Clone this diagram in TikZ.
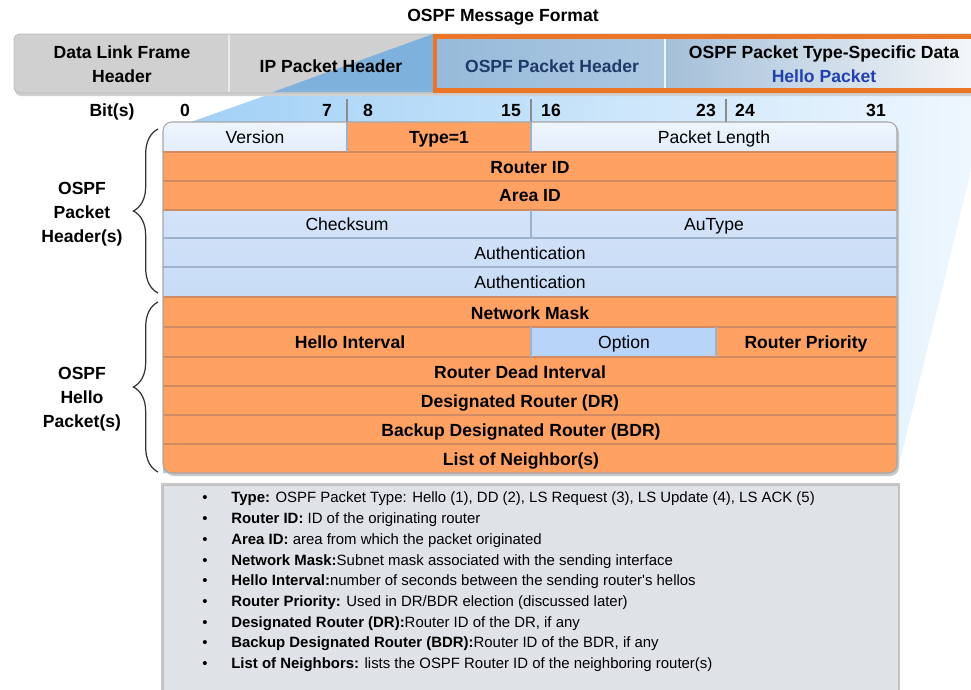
\documentclass[tikz,border=0pt]{standalone}
\usepackage{fontspec}
\setmainfont{Liberation Sans}
\usepackage{tikz}
\usetikzlibrary{calc}
\usetikzlibrary{decorations.pathreplacing}

\definecolor{ospforange}{HTML}{FFA163}
\definecolor{orangeline}{HTML}{D08B62}
\definecolor{cellblue}{HTML}{C8DCF7}
\definecolor{celllight}{HTML}{E3EEFB}
\definecolor{optionblue}{HTML}{B9D4F9}
\definecolor{blueline}{HTML}{9EB2CB}
\definecolor{bargray}{HTML}{D0D0D0}
\definecolor{frameorange}{HTML}{EA7527}
\definecolor{hdrblue}{HTML}{97BADA}
\definecolor{hdrgray}{HTML}{C9CED3}
\definecolor{wedgedark}{HTML}{7EB1DB}
\definecolor{wedgeleft}{HTML}{9FCFF6}
\definecolor{wedgeright}{HTML}{F0F8FE}
\definecolor{navytext}{HTML}{1E3A66}
\definecolor{hellotext}{HTML}{2241B0}
\definecolor{notegray}{HTML}{DFE3E8}

\tikzset{
  lbl/.style={font=\fontsize{10}{13.7}\selectfont\bfseries, inner sep=0pt, align=center},
  fld/.style={font=\fontsize{10}{12}\selectfont, inner sep=0pt, text height=7.2pt, text depth=0pt},
  fldb/.style={fld, font=\fontsize{10}{12}\selectfont\bfseries},
  noteline/.style={font=\fontsize{8.5}{10}\selectfont, inner sep=0pt, anchor=base west},
  rowsep/.style={orangeline, line width=0.6pt},
  bluesep/.style={blueline, line width=0.6pt},
}

\begin{document}
\begin{tikzpicture}[x=0.02cm, y=-0.02cm]
    \useasboundingbox (0,0) rectangle (971,690);
    \clip (0,0) rectangle (971,690);

    \coordinate (HL) at (433,34);
    \coordinate (TL) at (163,122);
    \coordinate (TR) at (897,122);
    \coordinate (BL) at (163,473);
    \coordinate (BR) at (897,473);

    % Blue projection behind the table
    \shade[left color=wedgeleft, right color=wedgeright]
        (273,93) -- (990,93) -- (BR) -- (BL) -- (163,131.8) -- cycle;

    % Title
    \node[lbl] (title) at (503,17) {OSPF Message Format};

    % Header Bar
    \fill[black!18, rounded corners=3pt] (15,36) rectangle (1000,96);
    \draw[fill=bargray, draw=black!28, rounded corners=3pt] (14,34) rectangle (1000,93);
    \fill[wedgedark] (HL) -- (433,92) -- (273,92) -- cycle;
    \draw[white!92!black, line width=1pt] (229,35) -- (229,92);
    \shade[left color=hdrblue, right color=hdrblue!80!white] (435,37) rectangle (665,90);
    \shade[left color=hdrblue!75!hdrgray, right color=hdrgray!85!black!5] (665,37) rectangle (1000,90);
    \draw[white!85!hdrblue, line width=0.8pt] (665,38) -- (665,89);
    \draw[frameorange, line width=2.3pt] (435,36.5) rectangle (1000,90.5);

    \node[lbl] (dlink) at (122,64) {Data Link Frame\\Header};
    \node[lbl] (iphdr) at (331,66) {IP Packet Header};
    \node[lbl, text=navytext] (ospfhdr) at (552,66) {OSPF Packet Header};
    \node[lbl] (typedata) at (824,64) {OSPF Packet Type-Specific Data\\\textcolor{hellotext}{Hello Packet}};

    % Bit numbers
    \node[fldb] (bits) at (112,110) {Bit(s)};
    \node[fldb] (b0) at (185,110) {0};
    \node[fldb] (b7) at (327,110) {7};
    \node[fldb] (b8) at (368,110) {8};
    \node[fldb] (b15) at (511,110) {15};
    \node[fldb] (b16) at (551,110) {16};
    \node[fldb] (b23) at (706,110) {23};
    \node[fldb] (b24) at (745,110) {24};
    \node[fldb] (b31) at (876,110) {31};
    \draw[black!45, line width=0.8pt] (347,99) -- (347,122);
    \draw[black!45, line width=0.8pt] (531,99) -- (531,122);
    \draw[black!45, line width=0.8pt] (726,99) -- (726,122);

    % Table shadow
    \fill[black!22, rounded corners=5pt] (165,124) -- (899,124) -- (899,476) -- (165,476) -- cycle;

    % Table cells
    \begin{scope}
        \clip[rounded corners=5pt] (BL) -- (TL) -- (TR) -- (BR) -- cycle;
        \shade[top color=celllight!60!white, bottom color=celllight] (163,122) rectangle (347,152);
        \fill[ospforange] (347,122) rectangle (531,152);
        \shade[top color=celllight!60!white, bottom color=celllight] (531,122) rectangle (897,152);
        \fill[ospforange] (163,152) rectangle (897,210);
        \shade[top color=cellblue!80!white, bottom color=cellblue] (163,210) rectangle (897,297);
        \fill[ospforange] (163,297) rectangle (897,473);
        \fill[optionblue] (531,327) rectangle (716,357);

        \draw[rowsep] (163,152) -- (897,152);
        \draw[rowsep] (163,181) -- (897,181);
        \draw[rowsep] (163,210) -- (897,210);
        \draw[bluesep] (163,238) -- (897,238);
        \draw[bluesep] (163,267) -- (897,267);
        \draw[rowsep] (163,297) -- (897,297);
        \draw[rowsep] (163,327) -- (897,327);
        \draw[rowsep] (163,357) -- (897,357);
        \draw[rowsep] (163,386) -- (897,386);
        \draw[rowsep] (163,415) -- (897,415);
        \draw[rowsep] (163,444) -- (897,444);

        \draw[bluesep] (347,122) -- (347,152);
        \draw[bluesep] (531,122) -- (531,152);
        \draw[bluesep] (531,210) -- (531,238);
        \draw[bluesep] (531,327) -- (531,357);
        \draw[bluesep] (716,327) -- (716,357);
    \end{scope}
    \draw[black!35, rounded corners=5pt, line width=0.6pt] (BL) -- (TL) -- (TR) -- (BR) -- cycle;

    % Field names
    \node[fld] (version) at (255,137) {Version};
    \node[fldb] (type) at (439,137) {Type=1};
    \node[fld] (pktlen) at (714,137) {Packet Length};
    \node[fldb] (rtrid) at (530,167) {Router ID};
    \node[fldb] (areaid) at (530,195.5) {Area ID};
    \node[fld] (checksum) at (347,224) {Checksum};
    \node[fld] (autype) at (714,224) {AuType};
    \node[fld] (auth1) at (530,253) {Authentication};
    \node[fld] (auth2) at (530,282) {Authentication};
    \node[fldb] (netmask) at (530,313) {Network Mask};
    \node[fldb] (hello) at (350,342) {Hello Interval};
    \node[fld] (option) at (624,342) {Option};
    \node[fldb] (priority) at (806,342) {Router Priority};
    \node[fldb] (dead) at (520,372) {Router Dead Interval};
    \node[fldb] (dr) at (520,401) {Designated Router (DR)};
    \node[fldb] (bdr) at (521,430) {Backup Designated Router (BDR)};
    \node[fldb] (nbrs) at (521,459) {List of Neighbor(s)};

    % Braces and group labels
    \draw[black!80, line width=0.7pt, decorate, decoration={brace, amplitude=14pt}] (158,293) -- (158,129);
    \draw[black!80, line width=0.7pt, decorate, decoration={brace, amplitude=14pt}] (158,472) -- (158,302);
    \node[lbl] (hdrgrp) at (82,214) {OSPF\\Packet\\Header(s)};
    \node[lbl] (hellogrp) at (82,399) {OSPF\\Hello\\Packet(s)};

    % Notes box
    \fill[black!22] (161,483) rectangle (900,700);
    \draw[fill=notegray, draw=black!25] (163,485) rectangle (898,700);
    \node[noteline] (ntype) at (202,502) {\makebox[16.5pt][l]{\textbullet}\textbf{Type:} OSPF Packet Type: Hello (1), DD (2), LS Request (3), LS Update (4), LS ACK (5)};
    \node[noteline] (nrtr) at (202,523) {\makebox[16.5pt][l]{\textbullet}\textbf{Router ID:} ID of the originating router};
    \node[noteline] (narea) at (202,544) {\makebox[16.5pt][l]{\textbullet}\textbf{Area ID:} area from which the packet originated};
    \node[noteline] (nmask) at (202,565) {\makebox[16.5pt][l]{\textbullet}\textbf{Network Mask:}Subnet mask associated with the sending interface};
    \node[noteline] (nhello) at (202,585) {\makebox[16.5pt][l]{\textbullet}\textbf{Hello Interval:}number of seconds between the sending router\textquotesingle s hellos};
    \node[noteline] (nprio) at (202,606) {\makebox[16.5pt][l]{\textbullet}\textbf{Router Priority:} Used in DR/BDR election (discussed later)};
    \node[noteline] (ndr) at (202,627) {\makebox[16.5pt][l]{\textbullet}\textbf{Designated Router (DR):}Router ID of the DR, if any};
    \node[noteline] (nbdr) at (202,647) {\makebox[16.5pt][l]{\textbullet}\textbf{Backup Designated Router (BDR):}Router ID of the BDR, if any};
    \node[noteline] (nnbr) at (202,668) {\makebox[16.5pt][l]{\textbullet}\textbf{List of Neighbors:} lists the OSPF Router ID of the neighboring router(s)};
\end{tikzpicture}
\end{document}
